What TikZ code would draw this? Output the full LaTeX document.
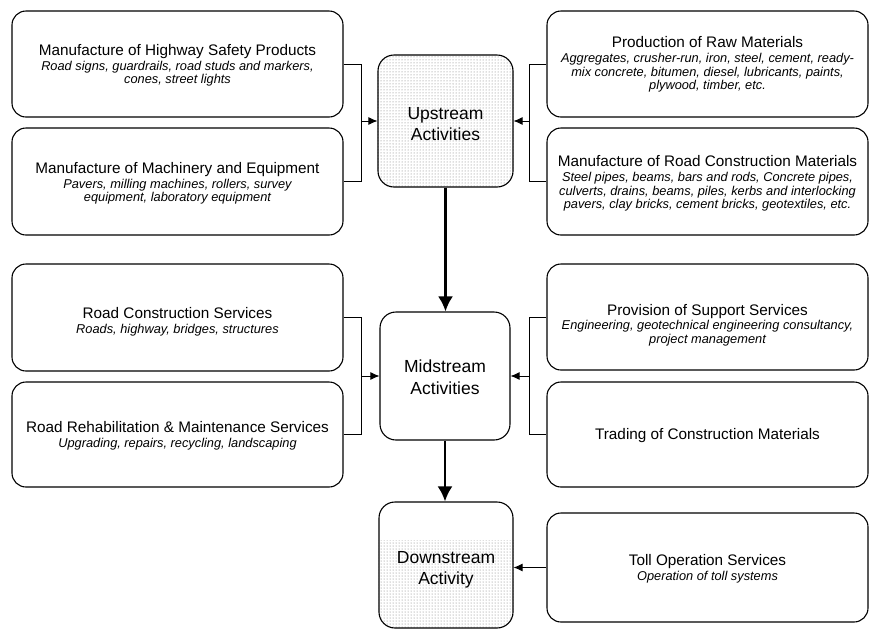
\documentclass[tikz,border=0pt]{standalone}
\usepackage{fontspec}
\setmainfont{Liberation Sans}
\usetikzlibrary{arrows.meta,calc,patterns,backgrounds}
\newcommand\mysubfont{\fontsize{12.8}{13.6}\selectfont\itshape}
\newcommand\mytitle[1]{{\fontsize{15.3}{18}\selectfont\upshape #1}\\[1pt]}
\tikzset{
  box/.style={draw, line width=1.1pt, rounded corners=14pt, inner sep=0pt},
  stage/.style={draw, line width=1.1pt, rounded corners=16pt, inner sep=0pt},
  txt/.style={align=center, inner sep=0pt, font=\mysubfont},
  stagetxt/.style={align=center, inner sep=0pt, font=\fontsize{17.5}{21.5}\selectfont},
  link/.style={line width=0.9pt},
  feed/.style={line width=0.9pt, -{Latex[length=9pt,width=8pt]}},
  flow/.style={line width=2.6pt, -{Latex[length=15pt,width=15pt]}},
  stipple/.style={pattern=dots, pattern color=black!55},
}
\begin{document}
\begin{tikzpicture}[x=1pt,y=-1pt]
\useasboundingbox (0,0) rectangle (871,630);
% left column boxes
\node[box, minimum width=331pt, minimum height=106pt] (L1) at (177.5,64) {};
\node[box, minimum width=331pt, minimum height=107pt] (L2) at (177.5,181.5) {};
\node[box, minimum width=331pt, minimum height=107pt] (L3) at (177.5,317.5) {};
\node[box, minimum width=331pt, minimum height=105pt] (L4) at (177.5,434.5) {};
% right column boxes
\node[box, minimum width=321pt, minimum height=106pt] (R1) at (707.5,64) {};
\node[box, minimum width=321pt, minimum height=107pt] (R2) at (707.5,181.5) {};
\node[box, minimum width=321pt, minimum height=106pt] (R3) at (707.5,317) {};
\node[box, minimum width=321pt, minimum height=105pt] (R4) at (707.5,434.5) {};
\node[box, minimum width=321pt, minimum height=109pt] (T) at (707.5,567.5) {};
% stage boxes
\node[stage, minimum width=135pt, minimum height=132pt] (Up) at (445.5,121) {};
\node[stage, minimum width=130pt, minimum height=128pt] (Mid) at (445,376) {};
\node[stage, minimum width=134pt, minimum height=126pt] (Down) at (446,565) {};
\begin{scope}[on background layer]
  \fill[stipple, rounded corners=16pt] (Up.north west) rectangle (Up.south east);
  \begin{scope}
    \clip (Down.west |- 0,540) rectangle (Down.south east);
    \fill[stipple, rounded corners=16pt] (Down.north west) rectangle (Down.south east);
  \end{scope}
\end{scope}
% texts
\node[txt] (tL1) at ($(L1)+(0,1.5)$) {\mytitle{Manufacture of Highway Safety Products}Road signs, guardrails, road studs and markers,\\cones, street lights};
\node[txt] (tL2) at ($(L2)+(0,2)$) {\mytitle{Manufacture of Machinery and Equipment}Pavers, milling machines, rollers, survey\\equipment, laboratory equipment};
\node[txt] (tL3) at ($(L3)+(0,4)$) {\mytitle{Road Construction Services}Roads, highway, bridges, structures};
\node[txt] (tL4) at ($(L4)+(0,1)$) {\mytitle{Road Rehabilitation \& Maintenance Services}Upgrading, repairs, recycling, landscaping};
\node[txt] (tR1) at ($(R1)+(0,0.5)$) {\mytitle{Production of Raw Materials}Aggregates, crusher-run, iron, steel, cement, ready-\\mix concrete, bitumen, diesel, lubricants, paints,\\plywood, timber, etc.};
\node[txt] (tR2) at ($(R2)+(0,2)$) {\mytitle{Manufacture of Road Construction Materials}Steel pipes, beams, bars and rods, Concrete pipes,\\culverts, drains, beams, piles, kerbs and interlocking\\pavers, clay bricks, cement bricks, geotextiles, etc.};
\node[txt] (tR3) at ($(R3)+(0,8)$) {\mytitle{Provision of Support Services}Engineering, geotechnical engineering consultancy,\\project management};
\node[txt, font=\fontsize{15.3}{18}\selectfont] (tR4) at ($(R4)+(0,1)$) {Trading of Construction Materials};
\node[txt] (tT) at ($(T)+(0,1.5)$) {\mytitle{Toll Operation Services}Operation of toll systems};
\node[stagetxt] (tUp) at ($(Up)+(0,3)$) {Upstream\\Activities};
\node[stagetxt] (tMid) at ($(Mid)+(0,1)$) {Midstream\\Activities};
\node[stagetxt] (tDown) at ($(Down)+(0,5)$) {Downstream\\Activity};
% connectors
\coordinate (jUL) at ($(Up.west)+(-16,0)$);
\coordinate (jUR) at ($(Up.east)+(16,0)$);
\coordinate (jML) at ($(Mid.west)+(-18,0)$);
\coordinate (jMR) at ($(Mid.east)+(19,0)$);
\draw[link] (L1.east) -| (jUL) |- (L2.east);
\draw[feed] (jUL) -- (Up.west);
\draw[link] (R1.west) -| (jUR) |- (R2.west);
\draw[feed] (jUR) -- (Up.east);
\draw[link] (L3.east) -| (jML) |- (L4.east);
\draw[feed] (jML) -- (Mid.west);
\draw[link] (R3.west) -| (jMR) |- (R4.west);
\draw[feed] (jMR) -- (Mid.east);
\draw[flow] (Up.south) -- (Up.south |- Mid.north);
\draw[flow] (Mid.south) -- (Mid.south |- Down.north);
\draw[feed] (T.west) -- (T.west -| Down.east);
\end{tikzpicture}
\end{document}
